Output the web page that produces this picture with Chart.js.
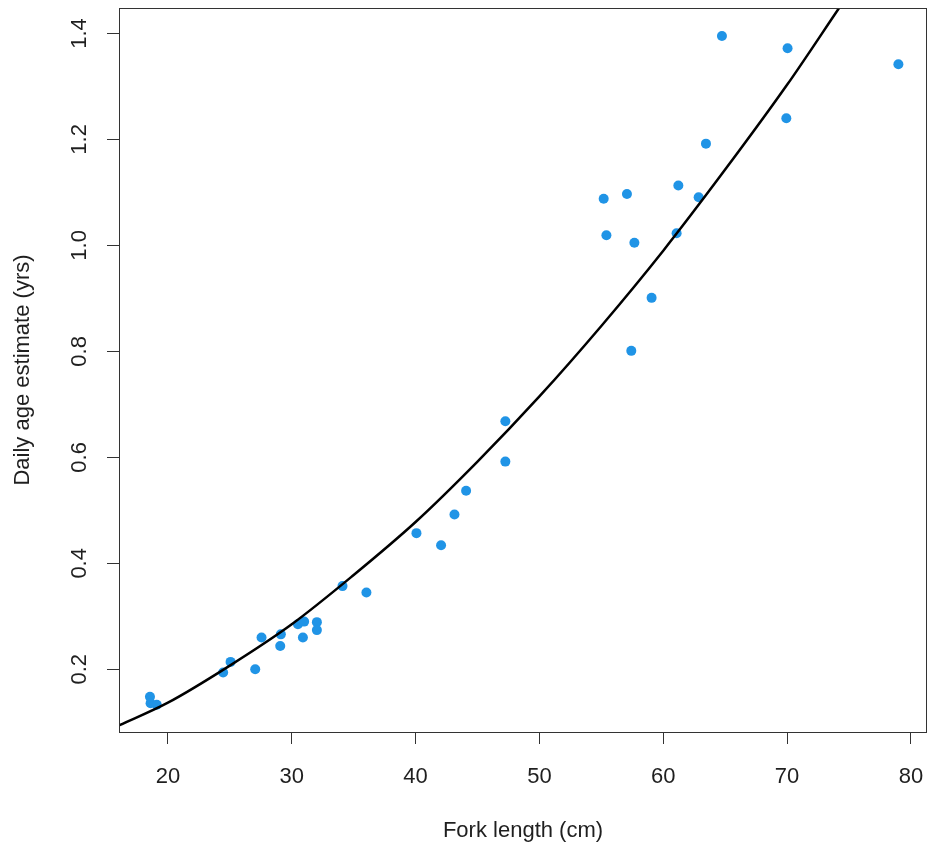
<!DOCTYPE html>
<html>
<head>
<meta charset="utf-8">
<script src="https://cdn.jsdelivr.net/npm/chart.js@4/dist/chart.umd.min.js"></script>
<style>
  html, body { margin: 0; padding: 0; background: #ffffff; }
  #wrap { width: 928px; height: 850px; position: relative; }
</style>
</head>
<body>
<div id="wrap"><canvas id="c"></canvas></div>
<script>
// Observed fish: fork length (cm) and daily age estimate (yrs)
const forkLength = [18.55, 18.6, 19.1, 24.46, 25.06, 27.05, 27.56, 29.07, 29.12, 30.5, 31.0, 30.9,
  32.03, 32.03, 34.1, 36.03, 40.07, 42.06, 43.14, 44.08, 47.25, 47.25, 55.19, 55.41,
  57.07, 57.67, 61.22, 62.86, 61.08, 59.06, 57.42, 64.74, 70.04, 78.99, 69.94, 63.45];
const ageYears = [0.148, 0.136, 0.133, 0.194, 0.214, 0.200, 0.260, 0.244, 0.266, 0.285, 0.290, 0.260,
  0.289, 0.274, 0.357, 0.345, 0.457, 0.434, 0.492, 0.537, 0.668, 0.592, 1.088, 1.019,
  1.097, 1.005, 1.113, 1.091, 1.023, 0.901, 0.801, 1.395, 1.372, 1.342, 1.240, 1.192];

// Fitted curve
const curveLength = [16.05, 20, 25, 30, 35, 40, 45, 50, 55, 60, 65, 70, 74.2];
const curveAge = [0.094, 0.137, 0.207, 0.285, 0.378, 0.478, 0.592, 0.715, 0.848, 0.990, 1.143, 1.303, 1.448];

// Axis ticks and ranges
const xTicks = [20, 30, 40, 50, 60, 70, 80];
const yTicks = [0.2, 0.4, 0.6, 0.8, 1.0, 1.2, 1.4];
const xRange = [16.05, 81.3];
const yRange = [0.0817, 1.448];

const xTitle = 'Fork length (cm)';
const yTitle = 'Daily age estimate (yrs)';

const FONT = "'Liberation Sans', Arial, sans-serif";
const TEXT = '#1f1f1f';
const AXIS = '#333333';

const points = forkLength.map((x, i) => ({ x: x, y: ageYears[i] }));
const curve = curveLength.map((x, i) => ({ x: x, y: curveAge[i] }));

function zeroPad(scale) {
  scale.paddingTop = 0;
  scale.paddingBottom = 0;
  scale.paddingLeft = 0;
  scale.paddingRight = 0;
}

const boxPlugin = {
  id: 'box',
  afterDatasetsDraw(chart) {
    const a = chart.chartArea;
    const ctx = chart.ctx;
    ctx.save();
    ctx.strokeStyle = AXIS;
    ctx.lineWidth = 1;
    ctx.strokeRect(Math.round(a.left) + 0.5, Math.round(a.top) + 0.5,
      Math.round(a.right - a.left) - 1, Math.round(a.bottom - a.top));
    ctx.restore();
  }
};

new Chart(document.getElementById('c'), {
  type: 'scatter',
  data: {
    datasets: [
      {
        data: curve,
        showLine: true,
        borderColor: '#000000',
        borderWidth: 2.5,
        pointRadius: 0,
        fill: false,
        cubicInterpolationMode: 'monotone',
        order: 0
      },
      {
        data: points,
        showLine: false,
        pointRadius: 5,
        pointBorderWidth: 0,
        pointBackgroundColor: 'rgb(32,148,230)',
        pointBorderColor: 'rgb(32,148,230)',
        order: 1
      }
    ]
  },
  options: {
    responsive: true,
    maintainAspectRatio: false,
    animation: false,
    devicePixelRatio: 1,
    layout: { autoPadding: false, padding: { top: 8, right: 1, bottom: 0, left: 0 } },
    plugins: { legend: { display: false }, tooltip: { enabled: false } },
    scales: {
      x: {
        type: 'linear',
        position: 'bottom',
        min: xRange[0],
        max: xRange[1],
        afterBuildTicks(scale) { scale.ticks = xTicks.map(v => ({ value: v })); },
        afterFit(scale) { scale.height = 118; zeroPad(scale); },
        grid: { display: true, drawOnChartArea: false, drawTicks: true, tickLength: 12, tickColor: AXIS, tickWidth: 1 },
        border: { display: false },
        ticks: {
          color: TEXT,
          font: { family: FONT, size: 22 },
          padding: 20,
          maxRotation: 0,
          minRotation: 0,
          callback: v => String(v)
        },
        title: {
          display: true,
          text: xTitle,
          color: TEXT,
          font: { family: FONT, size: 22 },
          padding: { top: 0, bottom: 6 }
        }
      },
      y: {
        type: 'linear',
        position: 'left',
        min: yRange[0],
        max: yRange[1],
        afterBuildTicks(scale) { scale.ticks = yTicks.map(v => ({ value: v })); },
        afterFit(scale) { scale.width = 119; zeroPad(scale); },
        grid: { display: true, drawOnChartArea: false, drawTicks: true, tickLength: 12, tickColor: AXIS, tickWidth: 1 },
        border: { display: false },
        ticks: {
          color: TEXT,
          font: { family: FONT, size: 22 },
          padding: 12,
          minRotation: 90,
          maxRotation: 90,
          crossAlign: 'center',
          callback: v => Number(v).toFixed(1)
        },
        title: {
          display: true,
          text: yTitle,
          color: TEXT,
          font: { family: FONT, size: 22 },
          padding: { top: 10, bottom: 0 }
        }
      }
    }
  },
  plugins: [boxPlugin]
});
</script>
</body>
</html>
